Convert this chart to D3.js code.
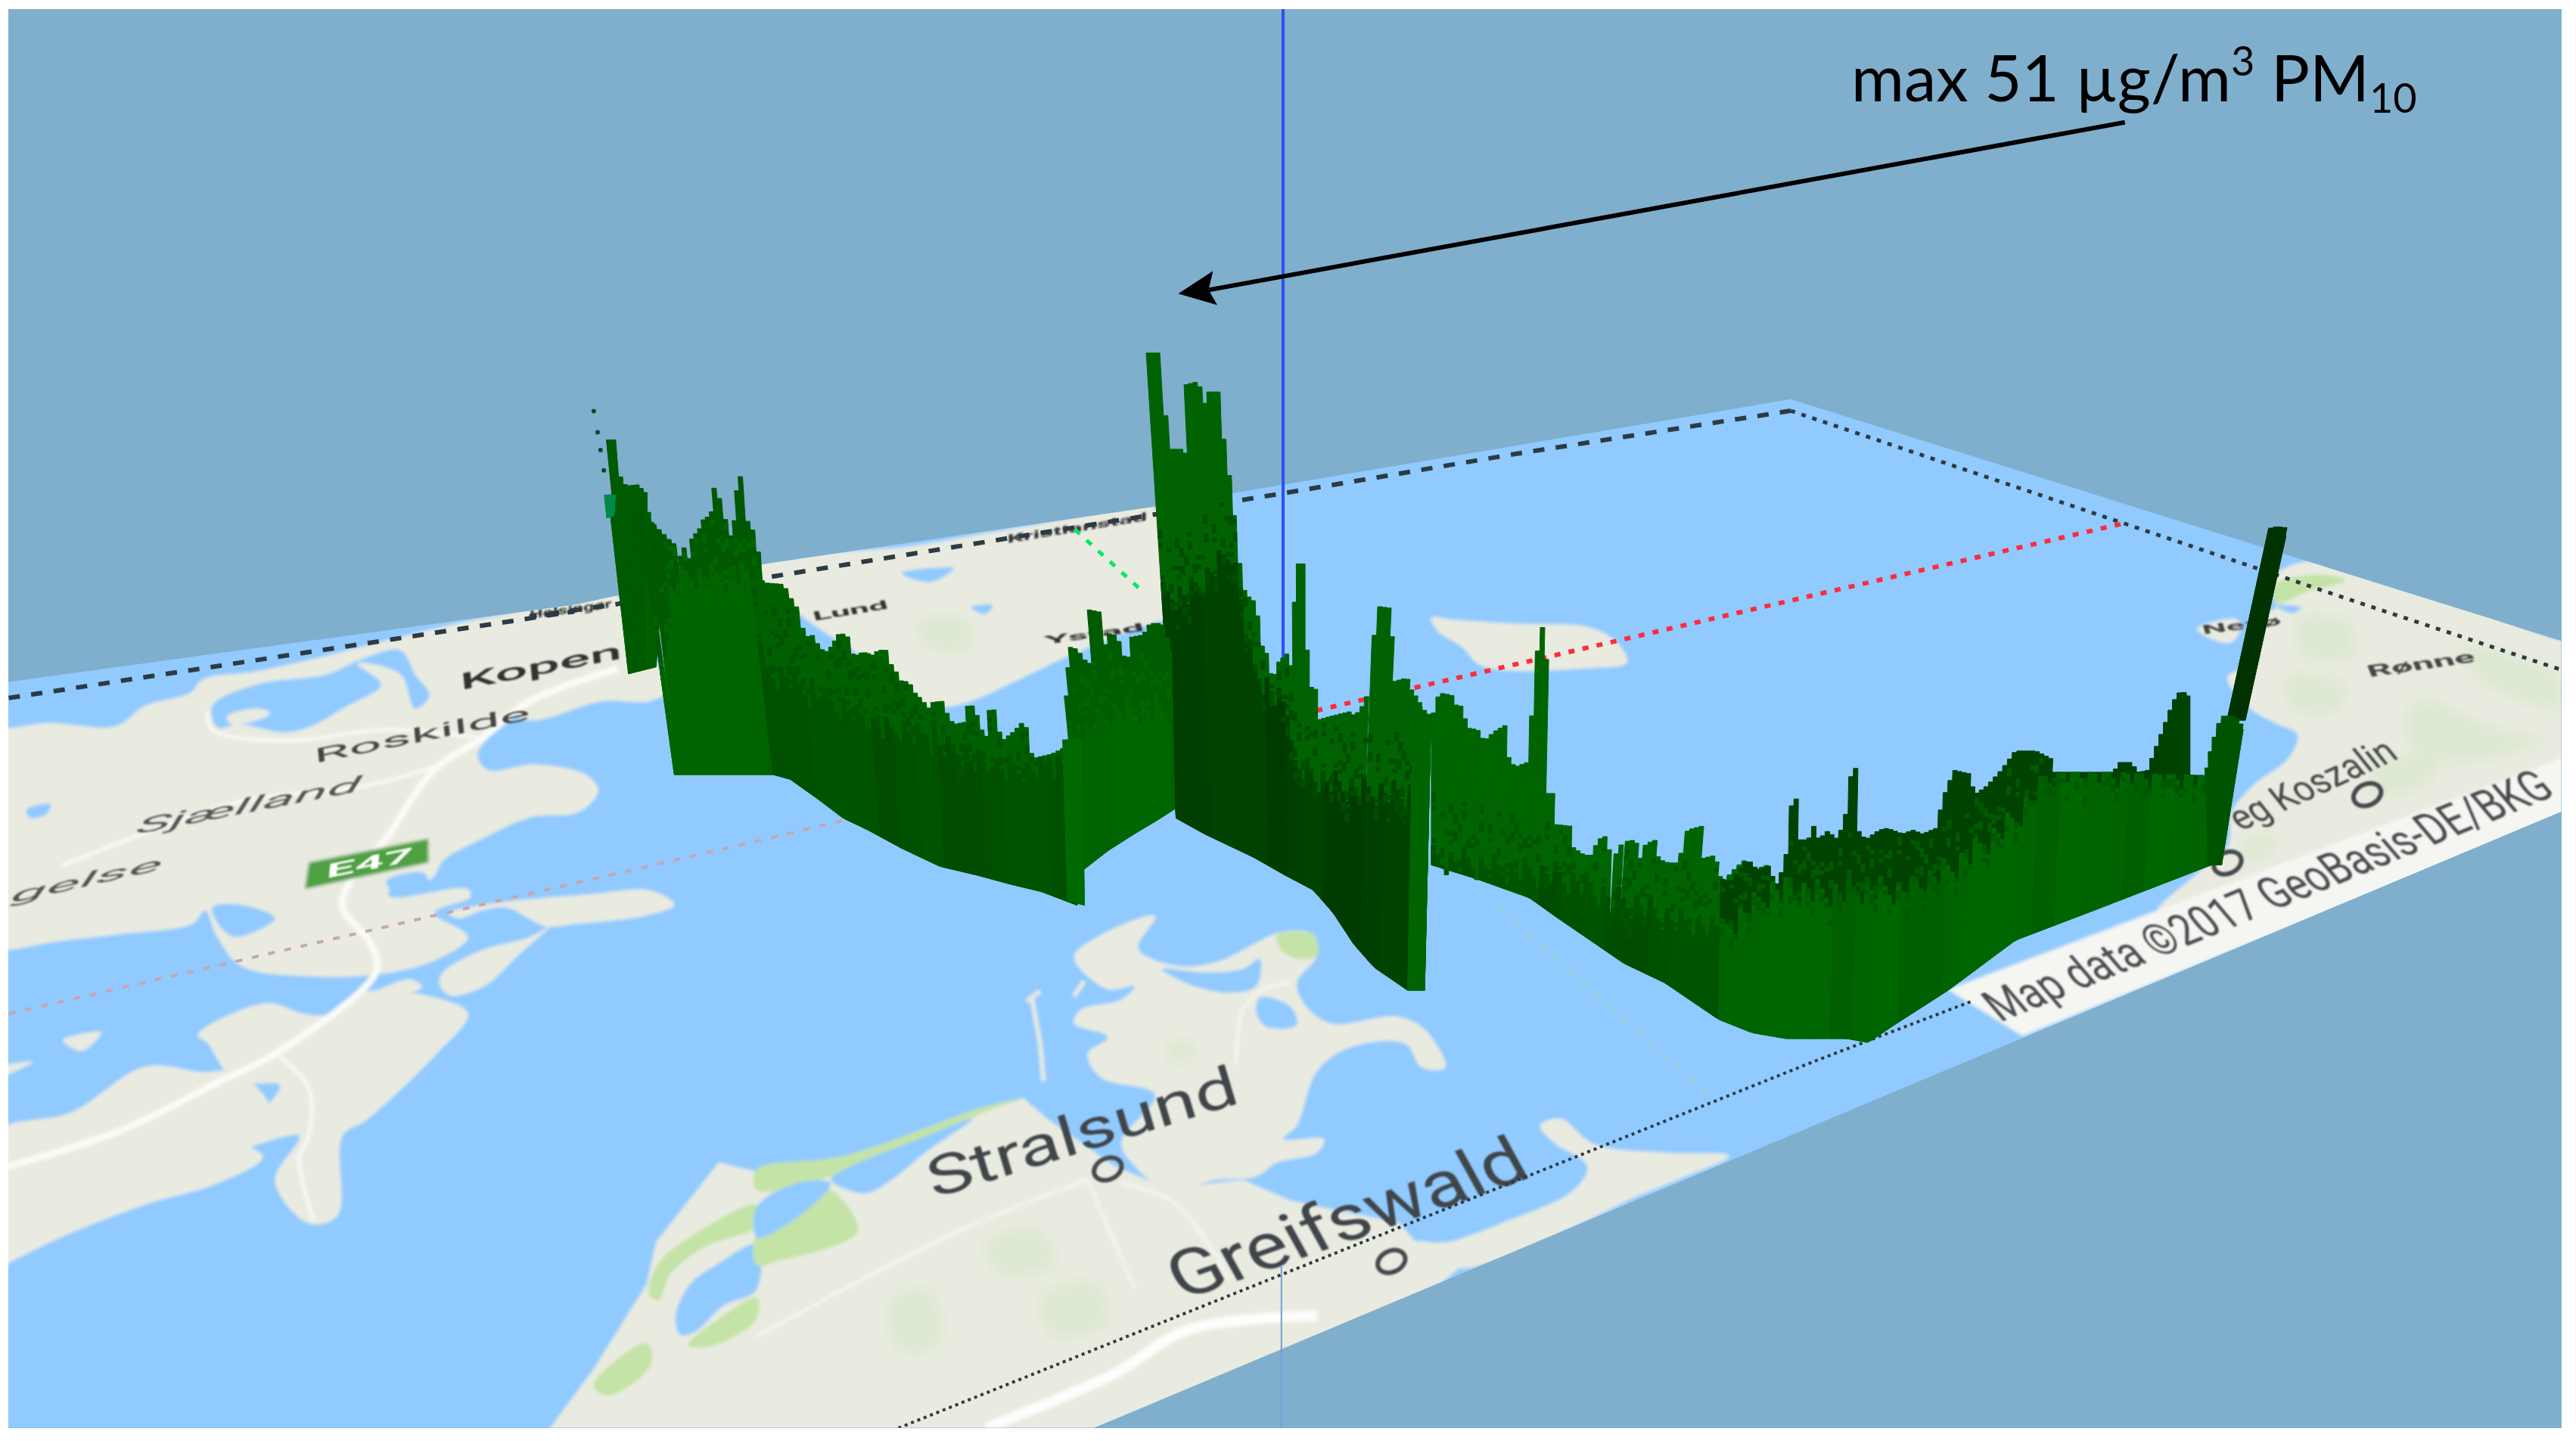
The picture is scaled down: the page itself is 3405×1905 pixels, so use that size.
<!DOCTYPE html>
<meta charset="utf-8">
<script src="https://d3js.org/d3.v7.min.js"></script>
<style>
    html, body { margin: 0; background: #fff; }
    svg { display: block; }
    text { font-family: Roboto, sans-serif; }
</style>
<body>
<script>
    // readings of the picture, each list is in the units of the crop it was read from
    var planeOutline = [[5, 415], [350, 368], [460, 344], [698, 309], [1090, 243], [1559, 390], [1559, 494], [666, 869], [5, 869]];

    // land, crop C (west)
    var zealand = [[18,232],[100,222],[240,228],[300,190],[395,165],[420,140],[530,125],[700,90],[830,60],[1000,25],[1190,0],[1285,0],[1310,90],[1365,115],[1375,170],[1240,175],[1130,180],[1060,215],[990,280],[1010,310],[1110,300],[1215,320],[1240,350],[1200,390],[1100,400],[1000,440],[920,480],[895,515],[805,540],[810,550],[970,535],[975,550],[900,580],[970,625],[900,670],[790,695],[650,700],[500,680],[450,625],[425,575],[400,600],[250,620],[110,635],[18,650],[-20,650],[-20,232]];
    var stevns = [[930,580],[1000,565],[1090,555],[1220,545],[1350,538],[1398,565],[1340,585],[1200,600],[1130,605],[1095,590],[1050,570],[1000,575],[950,590]];
    var stevnsSouth = [[920,690],[1000,650],[1100,625],[1140,605],[1080,655],[1000,720],[930,735],[910,710]];
    var bogo = [[770,735],[850,705],[875,720],[800,740]];
    var moen = [[410,810],[480,770],[560,750],[630,770],[690,770],[745,730],[905,740],[970,770],[900,850],[760,970],[710,1000],[700,1150],[640,1165],[570,1085],[620,1000],[500,1020],[540,960],[580,905],[520,900],[470,880],[430,825]];
    var lolland = [[-20,1000],[150,955],[300,870],[420,880],[490,880],[560,950],[510,1010],[545,1040],[450,1090],[300,1130],[130,1190],[18,1240],[-20,1260]];
    var islet1 = [[130,820],[210,805],[170,840]];
    var islet2 = [[-10,875],[70,860],[-10,890]];
    var fjord = [[440,190],[530,150],[680,130],[740,105],[830,85],[860,130],[890,170],[860,195],[830,130],[740,110],[790,150],[720,190],[640,230],[590,240],[500,225],[450,230]];
    var fjordIsle = [[470,210],[540,195],[560,205],[480,225]];
    var pond1 = [[55,385],[105,375],[95,395],[60,400]];
    var pond2 = [[800,520],[880,505],[885,530],[830,550]];
    var bay1 = [[440,570],[500,565],[570,590],[490,625],[460,610]];
    var roadsC = [
        [[-10,1065],[250,990],[450,900],[580,840],[780,690],[770,640],[710,570],[720,530],[800,440],[900,310],[1000,250],[1100,180],[1280,120]],
        [[130,490],[300,430],[500,370],[760,340],[900,305]],
        [[430,200],[440,235],[600,255],[800,235],[1000,250]],
        [[580,850],[640,910],[640,1000],[620,1040],[650,1160]]
    ];
    var mainlandC = [[1100,1600],[1230,1440],[1340,1280],[1360,1200],[1490,1050],[1530,1060]];
    var darssWestGreen = [[1230,1470],[1340,1390],[1350,1430],[1260,1490]];
    var darssStripGreen = [[1345,1300],[1365,1240],[1440,1185],[1568,1130],[1568,1170],[1460,1210],[1390,1260],[1365,1310]];
    var darssLagoon = [[1400,1340],[1430,1280],[1490,1240],[1568,1205],[1568,1290],[1500,1320],[1440,1370],[1410,1375]];
    var darssSouthGreen = [[1425,1395],[1490,1345],[1568,1305],[1568,1345],[1480,1395]];

    // land, crop A (north)
    var skane = [[470,580],[800,530],[1100,475],[1290,445],[1450,620],[1495,650],[1290,700],[1110,775],[1000,830],[900,875],[820,880],[700,780],[560,680]];
    var skaneLakes = [[770,590],[880,580],[830,610]];
    var skaneLake2 = [[915,665],[960,660],[945,680]];
    var skanePatch = [[800,700],[900,690],[920,750],[840,760]];
    var copenhagenA = [[-20,650],[165,625],[265,860],[150,870],[-20,905]];

    // land, crop B (island)
    var ven = [[215,425],[250,430],[340,440],[450,450],[490,490],[505,540],[450,555],[290,550],[260,500],[225,460]];

    // land, crop D (Ruegen, Stralsund, Greifswald)
    var ruegen = [[470,145],[510,80],[590,25],[565,120],[620,170],[680,160],[780,70],[825,80],[830,140],[800,220],[810,280],[850,340],[950,320],[990,360],[1020,470],[985,470],[960,400],[880,410],[830,480],[800,640],[780,680],[840,680],[830,720],[770,750],[740,790],[680,800],[610,830],[560,760],[540,690],[590,550],[510,500],[490,430],[520,380],[470,340],[480,300],[540,270],[560,230],[520,240]];
    var jasmund = [[745,265],[790,290],[800,345],[755,350],[740,310]];
    var breege = [[600,180],[660,190],[720,180],[745,150],[740,230],[700,250],[640,225]];
    var hiddenseeLines = [[[400,275],[420,245]], [[408,270],[420,400],[425,510]], [[470,260],[485,215]]];
    var mainlandD = [[0,775],[130,730],[250,660],[330,590],[395,560],[430,620],[480,690],[530,760],[590,810],[630,820],[720,800],[790,860],[860,890],[950,925],[975,980],[1030,985],[1040,1060],[900,1300],[500,1600]];
    var usedom = [[1160,640],[1190,620],[1240,695],[1345,720],[1440,730],[1375,790],[1290,860],[1270,880],[1040,1060],[1000,1000],[1040,975],[1100,930],[1210,830],[1230,760],[1180,690]];
    var darssGreen = [[0,770],[130,730],[330,590],[395,560],[340,600],[110,790],[0,830]];
    var vorpommernGreen = [[100,820],[150,950],[30,1040],[0,1050],[0,960],[60,900]];
    var wittowGreen = [[770,80],[825,80],[830,140],[800,150],[775,120]];
    var lagoon1 = [[0,880],[60,810],[110,810],[80,880],[20,960],[0,970]];
    var lagoon2 = [[130,770],[240,680],[320,620],[250,720],[200,800],[160,840],[110,800]];
    var pondD = [[975,930],[1010,935],[1030,970],[1000,985],[975,960]];
    var patchesD = [
        [[340,980],[420,950],[440,1050],[360,1080]], [[200,1150],[260,1130],[270,1290],[210,1300]],
        [[420,1150],[500,1100],[520,1220],[440,1260]], [[610,400],[650,400],[640,450],[610,450]]
    ];
    var roadsD = [[[340,1530],[530,1370],[640,1240],[830,1200]]];
    var thinRoadsD = [
        [[0,1260],[300,950],[490,800]], [[490,800],[560,1120]], [[540,810],[620,870],[700,1090]],
        [[710,460],[720,300],[750,240],[790,220]]
    ];

    // land, crop E (east)
    var eastLand = [[870,230],[960,180],[1535,385],[1560,385],[1560,700],[760,1040],[610,1085],[700,990],[770,920],[780,830],[830,760],[910,690],[930,630],[880,600],[820,560],[770,480],[840,440],[830,330],[880,300]];
    var creditStrip = [[130,1290],[1560,680],[1560,830],[300,1410]];
    var eastIslet = [[700,355],[790,330],[800,350],[780,390],[730,380]];
    var eastGreen = [[880,240],[980,215],[1040,230],[950,260],[880,290]];
    var eastLake = [[880,295],[940,300],[920,315]];
    var patchesE = [
        [[930,330],[1050,340],[1060,420],[950,430]], [[900,480],[1040,500],[1020,570],[920,560]],
        [[1200,540],[1400,620],[1500,640],[1300,700],[1180,640]], [[1100,720],[1250,680],[1240,740],[1120,790]],
        [[800,910],[880,890],[870,940],[810,945]], [[1300,400],[1530,480],[1530,560],[1340,480]]
    ];

    // wall of PM10 columns along the track: top outline and ground line
    var w0Top = [[150,520],[152,430],[160,400],[163,300],[175,300],[180,370],[187,395],[200,400],[222,398],[245,420],[250,470],[262,485],[270,510],[290,530],[297,560]];
    var w0Base = [[205,810],[262,795]];
    var w1Top = [[225,450],[245,480],[262,500],[275,515],[290,530],[296,555],[305,535],[315,560],[325,510],[340,500],[350,475],[360,470],[372,455],[377,405],[388,405],[392,460],[400,475],[410,515],[418,475],[425,440],[430,375],[437,380],[442,450],[448,490],[460,500],[465,545],[470,600]];
    var w1Base = [[300,1030],[430,1030],[505,1030]];
    var w1Shade = [[225,830],[260,640],[300,600],[470,600]];
    var w2Top = [[458,610],[470,600],[490,612],[525,615],[535,640],[548,665],[555,705],[563,730],[575,725],[582,740],[600,765],[620,745],[628,725],[650,722],[655,765],[668,770],[682,763],[695,765],[710,770],[718,760],[735,757],[745,790],[752,800],[762,825],[780,828],[790,850],[805,865],[820,885],[830,872],[850,870],[862,910],[875,920],[900,915],[905,880],[920,880],[928,925],[945,950],[950,890],[968,888],[972,960],[990,945],[1003,935],[1018,918],[1030,930],[1038,995],[1060,990],[1080,985],[1100,975],[1125,960]];
    var w2Base = [[505,1030],[540,1040],[600,1085],[650,1125],[700,1150],[770,1190],[850,1230],[930,1250],[1000,1270],[1060,1285],[1135,1315]];
    var w2Shade = [[458,800],[600,880],[700,930],[800,950],[900,1000],[1000,1030],[1125,1000]];
    var w3Top = [[1090,860],[1103,855],[1105,750],[1130,757],[1135,775],[1155,790],[1158,670],[1180,675],[1183,780],[1193,722],[1215,727],[1222,770],[1240,775],[1245,730],[1270,725],[1285,700],[1310,700],[1330,760]];
    var w3Base = [[1145,1240],[1200,1195],[1260,1155],[1300,1130],[1337,1105]];
    var w3Shade = [[1090,960],[1200,890],[1330,890]];
    var w3EdgeTop = [[1105,955],[1145,950]];
    var w3EdgeBase = [[1115,1305],[1150,1315]];
    var w4Top = [[1278,110],[1305,110],[1310,230],[1315,320],[1340,320],[1350,330],[1355,180],[1385,172],[1392,240],[1400,195],[1425,195],[1435,320],[1443,380],[1450,440],[1460,560],[1472,635],[1495,655],[1510,760],[1525,770],[1530,855],[1540,790],[1567,765]];
    var w4TopB = [[8,570],[13,285],[30,285],[32,600],[45,610],[48,690],[70,680],[100,668],[108,680],[125,640],[130,530],[135,395],[155,400],[160,490],[165,590],[185,580],[192,610],[205,640],[215,680]];
    var w4Base = [[1340,1125],[1400,1160],[1500,1210],[1567,1250]];
    var w4BaseB = [[40,1130],[70,1190],[100,1270],[130,1330],[180,1390]];
    var w4Shade = [[1278,640],[1340,640],[1440,540],[1480,800],[1567,900]];
    var w4ShadeB = [[8,820],[100,870],[215,890]];
    var w4EdgeTop = [[188,640],[215,680]];
    var w4EdgeBase = [[180,1390],[205,1390]];
    var w5Top = [[215,700],[222,640],[228,620],[245,625],[250,650],[262,655],[268,710],[285,715],[295,745],[310,720],[330,700],[333,800],[345,810],[360,800],[365,680],[370,675],[374,450],[386,450],[387,680],[388,800],[390,880],[400,880],[403,960],[430,965],[433,1020],[450,1040],[462,1040],[470,1000],[483,990],[490,1050],[503,1005],[520,1000],[525,1060],[535,1010],[550,1000],[555,1050],[570,1060],[585,1060],[595,975],[615,965],[616,1050],[640,1040],[645,1090],[655,1105],[672,1070],[685,1050],[695,1080],[718,1065],[725,1130]];
    var w5Base = [[215,1065],[280,1100],[360,1150],[400,1200],[450,1260],[500,1320],[560,1370],[640,1465],[700,1500]];
    var w5Shade = [[215,1050],[365,1090],[400,1090],[500,1160],[600,1220],[725,1260]];
    var farTowerTop = [[1225,825],[1235,800],[1250,800],[1262,825],[1275,822],[1295,730],[1310,660],[1320,620],[1332,618],[1345,650],[1342,720],[1335,800],[1338,835]];
    var farTowerBase = [[1225,835],[1338,835]];
    var spikeTop = [[1455,195],[1462,190],[1478,190],[1483,205]];
    var spikeBase = [[1393,690],[1420,690]];
    var w6Top = [[645,1100],[660,1110],[685,1050],[700,1080],[720,1065],[725,1130],[735,1090],[745,1020],[750,890],[757,895],[760,1000],[775,1000],[785,955],[790,1000],[805,975],[815,1000],[828,960],[838,815],[845,815],[846,970],[860,1000],[880,975],[892,970],[915,985],[930,975],[945,985],[965,970],[975,890],[990,820],[1015,830],[1020,885],[1040,860],[1060,820],[1080,770],[1110,770],[1133,790],[1135,825],[1225,825],[1300,830],[1385,835]];
    var w6Base = [[640,1465],[690,1500],[740,1515],[830,1515],[862,1525],[900,1480],[980,1390],[1080,1260],[1200,1180],[1370,1065]];
    var w6Shade = [[645,1240],[720,1130],[800,1140],[870,1130],[920,1135],[1000,1060],[1080,950],[1135,828],[1385,835]];
    var w7Top = [[1358,835],[1370,760],[1385,680],[1405,680],[1420,710]];
    var w7Base = [[1365,1065],[1385,1065]];
    var tealTop = [[155,420],[178,420]];
    var tealBase = [[160,470],[175,465]];
    var strayDots = [[133,237],[141,283],[147,322],[154,366]];

    // dotted guide lines
    var backEdgeC = [[18,175],[1190,12]];
    var backEdgeA = [[0,685],[170,660],[490,600],[1280,465],[1568,415]];
    var backEdgeB = [[340,0]];
    var apex = [[1090, 250]];
    var rightEdgeB = [[1240,180],[1570,375]];
    var rightEdgeE = [[1530,460]];
    var frontEdgeD = [[210,1530],[1568,450]];
    var frontEdgeE = [[185,1320]];
    var pinkLineC = [[18,770],[1568,445]];
    var pinkLineA = [[650,1130]];
    var redLine = [[45,665],[1240,180]];
    var greenLine = [[1130,495],[1265,625]];
    var paleGreenLine = [[1100,0],[1420,570]];
    var blueAxis = [[781, 5.5], [781, 420]];
    var blueAxisLow = [[780, 770], [780, 869.5]];

    // annotation, crop F
    var arrowLine = [[1140,485],[85,1150]];
    var arrowHead = [[50,1165],[90,1075],[85,1150],[95,1210]];

    // E47 road badge and towns
    var badge = [[640, 485], [888, 440], [888, 485], [632, 535]];
    var townsD = [[520, 768], [940, 1040]];
    var townsE = [[1090, 785], [770, 962]];

    var width = 3405, height = 1905;
    var svg = d3.select('body').append('svg').attr('width', width).attr('height', height);
    var defs = svg.append('defs');

    function crop(x0, w, y0, h, spanY) {
        return {
            x: d3.scaleLinear().domain([0, 1568]).range([x0, x0 + w]),
            y: d3.scaleLinear().domain([0, spanY || 1568]).range([y0, y0 + h])
        };
    }
    var cropA = crop(700, 1000, 400, 950),
        cropB = crop(1700, 1400, 600, 800),
        cropC = crop(0, 1000, 800, 1100),
        cropD = crop(1000, 1400, 1200, 705),
        cropE = crop(2500, 905, 650, 800),
        cropF = crop(1500, 1800, 0, 500, 1500);
    var whole = {
        x: d3.scaleLinear().domain([0, 1568]).range([0, width]),
        y: d3.scaleLinear().domain([0, 877]).range([0, height])
    };

    function pic(v, pts) {
        return pts.map(function (p) { return [v.x(p[0]), v.y(p[1])]; });
    }

    // image frame and map plane
    defs.append('clipPath').attr('id', 'frame').append('rect')
        .attr('x', 11).attr('y', 12).attr('width', 3375).attr('height', 1876);
    defs.append('clipPath').attr('id', 'plane').append('path')
        .attr('d', d3.line()(pic(whole, planeOutline)) + 'Z');
    var blur = defs.append('filter').attr('id', 'soft').attr('x', '-2%').attr('y', '-2%').attr('width', '104%').attr('height', '104%');
    blur.append('feGaussianBlur').attr('stdDeviation', 2);
    var blurText = defs.append('filter').attr('id', 'softText').attr('x', '-2%').attr('y', '-2%').attr('width', '104%').attr('height', '104%');
    blurText.append('feGaussianBlur').attr('stdDeviation', 1);
    var blurPatch = defs.append('filter').attr('id', 'softPatch').attr('x', '-30%').attr('y', '-30%').attr('width', '160%').attr('height', '160%');
    blurPatch.append('feGaussianBlur').attr('stdDeviation', 8);

    var root = svg.append('g').attr('clip-path', 'url(#frame)');
    root.append('rect').attr('x', 0).attr('y', 0).attr('width', width).attr('height', height).attr('fill', '#7fafcd');

    var plane = root.append('g').attr('clip-path', 'url(#plane)');
    var map = plane.append('g').attr('filter', 'url(#soft)');
    map.append('rect').attr('x', 0).attr('y', 0).attr('width', width).attr('height', height).attr('fill', '#90cafe');

    var blob = d3.line().curve(d3.curveCatmullRomClosed.alpha(0.5));
    var road = d3.line().curve(d3.curveCatmullRom.alpha(0.5));
    var LAND = '#e9ebe0', WATER = '#90cafe', GREEN = '#c4e3a6', PATCH = '#dde8d2';

    var shapes = [
        [cropC, zealand, LAND], [cropC, stevns, LAND], [cropC, stevnsSouth, LAND], [cropC, bogo, LAND],
        [cropC, moen, LAND], [cropC, lolland, LAND], [cropC, islet1, LAND], [cropC, islet2, LAND],
        [cropC, fjord, WATER], [cropC, fjordIsle, LAND], [cropC, pond1, WATER], [cropC, pond2, WATER], [cropC, bay1, WATER],
        [cropA, skane, LAND], [cropA, copenhagenA, LAND], [cropA, skaneLakes, WATER], [cropA, skaneLake2, WATER],
        [cropB, ven, LAND],
        [cropD, ruegen, LAND], [cropD, jasmund, WATER], [cropD, breege, WATER], [cropD, usedom, LAND],
        [cropD, wittowGreen, GREEN],
        [cropE, eastLand, LAND], [cropE, eastIslet, LAND], [cropE, eastGreen, GREEN], [cropE, eastLake, WATER]
    ];
    map.selectAll('path.shape').data(shapes).enter().append('path')
        .attr('class', 'shape')
        .attr('d', function (d) { return blob(pic(d[0], d[1])); })
        .attr('fill', function (d) { return d[2]; });

    // the mainland runs across two crops and off the frame
    map.append('path')
        .attr('d', d3.line()(pic(cropC, mainlandC).concat(pic(cropD, mainlandD))) + 'Z')
        .attr('fill', LAND);
    [[darssWestGreen, GREEN], [darssStripGreen, GREEN], [darssLagoon, WATER], [darssSouthGreen, GREEN]].forEach(function (d) {
        map.append('path').attr('d', blob(pic(cropC, d[0]))).attr('fill', d[1]);
    });
    [[darssGreen, GREEN], [vorpommernGreen, GREEN], [lagoon1, WATER], [lagoon2, WATER], [pondD, WATER]].forEach(function (d) {
        map.append('path').attr('d', blob(pic(cropD, d[0]))).attr('fill', d[1]);
    });

    // soft fields on the land
    var patches = map.append('g').attr('filter', 'url(#softPatch)');
    patches.append('path').attr('d', blob(pic(cropA, skanePatch))).attr('fill', PATCH);
    patchesD.forEach(function (d) { patches.append('path').attr('d', blob(pic(cropD, d))).attr('fill', PATCH); });
    patchesE.forEach(function (d) { patches.append('path').attr('d', blob(pic(cropE, d))).attr('fill', PATCH); });

    map.append('path').attr('d', d3.line()(pic(cropE, creditStrip)) + 'Z').attr('fill', '#f5f6f1');

    roadsC.forEach(function (r, i) {
        map.append('path').attr('d', road(pic(cropC, r))).attr('fill', 'none')
            .attr('stroke', '#fbfbf7').attr('stroke-width', i === 0 ? 9 : 4);
    });
    roadsD.forEach(function (r) {
        map.append('path').attr('d', road(pic(cropD, r))).attr('fill', 'none')
            .attr('stroke', '#fdfdfb').attr('stroke-width', 14);
    });
    thinRoadsD.forEach(function (r) {
        map.append('path').attr('d', road(pic(cropD, r))).attr('fill', 'none')
            .attr('stroke', '#f5f6f0').attr('stroke-width', 4);
    });
    hiddenseeLines.forEach(function (r) {
        map.append('path').attr('d', d3.line()(pic(cropD, r))).attr('fill', 'none')
            .attr('stroke', LAND).attr('stroke-width', 6);
    });

    map.append('path').attr('d', d3.line()(pic(cropC, badge)) + 'Z').attr('fill', '#4fa043');

    var mapLabels = [
        { t: 'Stralsund', v: cropD, a: [262, 855], b: [718, 572], size: 70, lean: 0.3, fill: '#3f4448' },
        { t: 'Greifswald', v: cropD, a: [630, 1155], b: [1150, 790], size: 78, lean: 0.55, fill: '#3f4448' },
        { t: 'Kopen', v: cropC, a: [955, 160], b: [1290, 100], size: 30, lean: 0.1, fill: '#333', weight: 500 },
        { t: 'Roskilde', v: cropC, a: [652, 298], b: [1100, 215], size: 26, lean: 0.1, fill: '#444' },
        { t: 'Sjælland', v: cropC, a: [280, 432], b: [745, 350], size: 28, lean: -0.2, fill: '#555', style: 'italic' },
        { t: 'gelse', v: cropC, a: [20, 562], b: [335, 498], size: 26, lean: -0.2, fill: '#555', style: 'italic' },
        { t: 'E47', v: cropC, a: [675, 515], b: [855, 482], size: 26, lean: -0.1, fill: '#fff', weight: 700 },
        { t: 'Map data ©2017 GeoBasis-DE/BKG', v: cropE, a: [250, 1375], b: [1525, 785], size: 50, lean: 0.85, fill: '#4a4d50' },
        { t: 'eg Koszalin', v: cropE, a: [800, 880], b: [1165, 690], size: 40, lean: 0.8, fill: '#45484a' },
        { t: 'Helsingør', v: cropA, a: [0, 690], b: [170, 665], size: 15, lean: 0, fill: '#333', weight: 700 },
        { t: 'Lund', v: cropA, a: [590, 695], b: [745, 668], size: 16, lean: 0.3, fill: '#333', weight: 700 },
        { t: 'Kristianstad', v: cropA, a: [990, 525], b: [1280, 475], size: 14, lean: 0, fill: '#333', weight: 700 },
        { t: 'Ystad', v: cropA, a: [1070, 745], b: [1275, 715], size: 14, lean: 0.3, fill: '#333', weight: 700 },
        { t: 'Rønne', v: cropE, a: [1095, 480], b: [1340, 440], size: 20, lean: 0.4, fill: '#444', weight: 700 },
        { t: 'Nexø', v: cropE, a: [715, 370], b: [895, 345], size: 16, lean: 0.3, fill: '#444', weight: 700 }
    ];

    var labels = plane.append('g').attr('filter', 'url(#softText)');
    labels.selectAll('text').data(mapLabels).enter().append('text')
        .text(function (d) { return d.t; })
        .attr('font-size', function (d) { return d.size; })
        .attr('font-style', function (d) { return d.style || null; })
        .attr('font-weight', function (d) { return d.weight || 400; })
        .attr('fill', function (d) { return d.fill; })
        .each(function (d) {
            var a = pic(d.v, [d.a])[0], b = pic(d.v, [d.b])[0], len = this.getComputedTextLength();
            var m = [(b[0] - a[0]) / len, (b[1] - a[1]) / len, d.lean, 1, a[0], a[1]];
            d3.select(this).attr('transform', 'matrix(' + m.join(',') + ')');
        });

    // place markers
    labels.selectAll('ellipse').data(pic(cropD, townsD).concat(pic(cropE, townsE))).enter().append('ellipse')
        .attr('transform', function (p) { return 'translate(' + p + ') rotate(-25)'; })
        .attr('rx', 19).attr('ry', 14).attr('fill', 'none').attr('stroke', '#474a4d').attr('stroke-width', 6);

    // dotted guides lying on the map
    function guide(pts, color, w, dash) {
        plane.append('path').attr('d', d3.line()(pts)).attr('fill', 'none')
            .attr('stroke', color).attr('stroke-width', w).attr('stroke-dasharray', dash);
    }
    guide(pic(cropC, backEdgeC).concat(pic(cropA, backEdgeA)).concat(pic(cropB, backEdgeB)).concat(pic(whole, apex)), '#2d3a44', 6, '15 15');
    guide(pic(whole, apex).concat(pic(cropB, rightEdgeB)).concat(pic(cropE, rightEdgeE)), '#2d3a44', 5, '6 9');
    guide(pic(cropD, frontEdgeD).concat(pic(cropE, frontEdgeE)), '#2d3a44', 4, '4 5');
    guide(pic(cropC, pinkLineC).concat(pic(cropA, pinkLineA)), '#c7a6ae', 4, '9 13');
    guide(pic(cropB, redLine), '#ff2b3b', 6, '8 11');
    guide(pic(cropA, greenLine), '#00e868', 5, '9 12');
    guide(pic(cropD, paleGreenLine), '#9fd3cc', 3, '12 12');

    // blue vertical axis, hidden by the wall from the map plane downwards
    root.append('path').attr('d', d3.line()(pic(whole, blueAxis))).attr('stroke', '#2f4ff0').attr('stroke-width', 4).attr('fill', 'none');
    root.append('path').attr('d', d3.line()(pic(whole, blueAxisLow))).attr('stroke', '#6f9fd4').attr('stroke-width', 2).attr('fill', 'none');

    // wall sections, painted back to front
    var stripes = [0, 0, 1, 1, 1, 2, 0, 1, 2, 2, 0, 1, 1, 0, 2, 1, 0, 0, 2, 1];
    var DARK = ['#003f00', '#004300', '#003b00'],
        MID = ['#005000', '#005400', '#004c00'],
        SOLID = ['#006400', '#006400', '#006000'],
        LIGHT = ['#006400', '#006600', '#006000'];

    var sections = [
        { top: pic(cropA, w0Top), base: pic(cropA, w0Base), upper: '#005c00', lower: ['#005a00', '#005e00', '#005600'] },
        { top: pic(cropA, w1Top), base: pic(cropA, w1Base), shade: pic(cropA, w1Shade), upper: '#005800', lower: SOLID, mottle: '#006600', band: 70 },
        { top: pic(cropA, tealTop), base: pic(cropA, tealBase), upper: '#008a4a', lower: ['#008a4a'] },
        { top: pic(cropA, w2Top), base: pic(cropA, w2Base), shade: pic(cropA, w2Shade), upper: '#006000', lower: MID, mottle: '#005200', band: 90 },
        { top: pic(cropB, w5Top), base: pic(cropB, w5Base), shade: pic(cropB, w5Shade), upper: '#006400', lower: MID, mottle: '#005400', band: 70 },
        { top: pic(cropA, w4Top).concat(pic(cropB, w4TopB)), base: pic(cropA, w4Base).concat(pic(cropB, w4BaseB)),
            shade: pic(cropA, w4Shade).concat(pic(cropB, w4ShadeB)), upper: '#006200', lower: DARK, mottle: '#004c00', band: 70 },
        { top: pic(cropB, w4EdgeTop), base: pic(cropB, w4EdgeBase), upper: '#006400', lower: SOLID },
        { top: pic(cropA, w3Top), base: pic(cropA, w3Base), shade: pic(cropA, w3Shade), upper: '#005c00', lower: LIGHT, mottle: '#006400', band: 70 },
        { top: pic(cropA, w3EdgeTop), base: pic(cropA, w3EdgeBase), upper: '#006a00', lower: ['#006a00'] },
        { top: pic(cropB, spikeTop), base: pic(cropB, spikeBase), upper: '#003300', lower: ['#003300'] },
        { top: pic(cropB, farTowerTop), base: pic(cropB, farTowerBase), upper: '#004000', lower: DARK },
        { top: pic(cropB, w6Top), base: pic(cropB, w6Base), shade: pic(cropB, w6Shade), upper: '#004200', lower: LIGHT, mottle: '#005800', band: 60 },
        { top: pic(cropB, w7Top), base: pic(cropB, w7Base), upper: '#005c00', lower: ['#005400'] }
    ];

    var wall = root.append('g');
    var colW = 6;
    var leanWindow = 15;

    sections.forEach(function (s) {
        var topX = s.top.map(function (p) { return p[0]; });
        var topScale = d3.scaleLinear().domain(topX).range(s.top.map(function (p) { return p[1]; }));
        var baseX = s.base.map(function (p) { return p[0]; });
        var baseScale = d3.scaleLinear().domain(baseX).range(s.base.map(function (p) { return p[1]; }));
        var x0 = topX[0], x1 = topX[topX.length - 1];
        var toBase = d3.scaleLinear().domain([x0, x1]).range([baseX[0], baseX[baseX.length - 1]]);
        var shadeScale = s.shade ? d3.scaleLinear()
            .domain(s.shade.map(function (p) { return p[0]; }))
            .range(s.shade.map(function (p) { return p[1]; })).clamp(true) : null;

        var cols = d3.range(x0, x1, colW).map(function (cx, i) {
            return {
                i: i, cx: cx, cx2: Math.min(cx + colW, x1),
                ty: topScale(cx + colW / 2),
                bx: toBase(cx), bx2: toBase(Math.min(cx + colW, x1))
            };
        });
        cols.forEach(function (c) {
            c.by = baseScale(c.bx);
            c.by2 = baseScale(c.bx2);
            // neighbouring columns share a lean, taken at the highest top nearby, so the tallest keep their read position
            var near = cols.slice(Math.max(0, c.i - leanWindow), c.i + leanWindow + 1);
            var localTop = d3.min(near, function (n) { return n.ty; });
            c.lean = (c.cx - c.bx) / Math.max(c.by - localTop, 1);
            c.lean2 = (c.cx2 - c.bx2) / Math.max(c.by2 - localTop, 1);
            // shade edge is ragged by whole render pixels
            c.sy = shadeScale ? Math.max(shadeScale(c.cx) + ((c.i * 37) % 7 - 3) * colW, c.ty) : c.ty;
        });
        function leftAt(c, y) { return c.bx + c.lean * (c.by - y); }
        function rightAt(c, y) { return c.bx2 + c.lean2 * (c.by2 - y); }

        var g = wall.append('g');
        g.selectAll('path.up').data(cols).enter().append('path')
            .attr('class', 'up')
            .attr('d', function (c) {
                return d3.line()([[leftAt(c, c.ty), c.ty], [rightAt(c, c.ty), c.ty], [c.bx2, c.by2], [c.bx, c.by]]) + 'Z';
            })
            .attr('fill', s.upper).attr('stroke', s.upper).attr('stroke-width', 1);

        // lower part up to the shade line, stripes running along the column
        g.selectAll('path.low').data(cols).enter().append('path')
            .attr('class', 'low')
            .attr('d', function (c) {
                return d3.line()([[leftAt(c, c.sy), c.sy], [rightAt(c, c.sy), c.sy], [c.bx2, c.by2], [c.bx, c.by]]) + 'Z';
            })
            .each(function (c) {
                var k = stripes[Math.floor(c.i / 5) % stripes.length];
                var col = s.lower[k % s.lower.length];
                d3.select(this).attr('fill', col).attr('stroke', col).attr('stroke-width', 1);
            });

        // pixel noise of the low resolution render, follows the lean of the column
        if (s.mottle) {
            var d = '';
            cols.forEach(function (c) {
                for (var y = Math.round(c.sy - s.band), j = 0; y < c.sy + s.band / 3; y += colW, j++) {
                    if (y > c.ty + 4 && y < c.by - colW && ((c.i * c.i * 7 + j * j * 3 + c.i * j) % 13) < 4) {
                        d += 'M' + leftAt(c, y).toFixed(1) + ',' + y + 'h' + colW + 'v' + colW + 'h-' + colW + 'Z';
                    }
                }
            });
            g.append('path').attr('d', d).attr('fill', s.mottle);
        }
    });

    wall.selectAll('circle').data(pic(cropA, strayDots)).enter().append('circle')
        .attr('cx', function (d) { return d[0]; }).attr('cy', function (d) { return d[1]; })
        .attr('r', 3).attr('fill', '#0b4a2b');

    // annotation
    root.append('path').attr('d', d3.line()(pic(cropF, arrowLine)))
        .attr('stroke', '#000').attr('stroke-width', 6).attr('fill', 'none');
    root.append('path').attr('d', d3.line()(pic(cropF, arrowHead)) + 'Z').attr('fill', '#000');

    var note = root.append('text').attr('x', 2447).attr('y', 134)
        .style('font-family', 'Lato, sans-serif').attr('font-size', 85).attr('fill', '#000');
    note.append('tspan').text('max 51 µg/m');
    note.append('tspan').attr('font-size', 54).attr('dy', -34).text('3');
    note.append('tspan').attr('dy', 34).text(' PM');
    note.append('tspan').attr('font-size', 54).attr('dy', 15).text('10');
</script>
</body>
